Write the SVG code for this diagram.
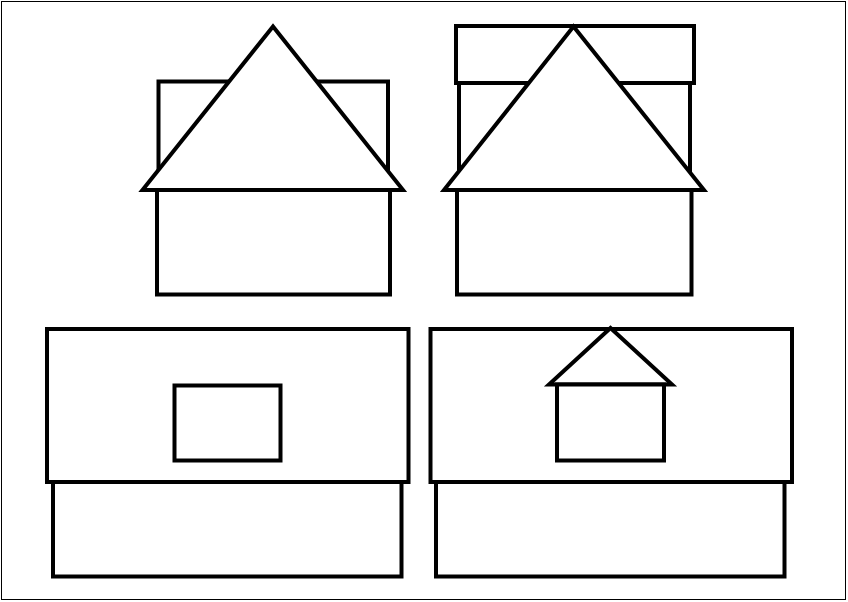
<svg xmlns="http://www.w3.org/2000/svg" width="848" height="602" viewBox="0 0 848 602">
  <style>
    .s { fill: #ffffff; stroke: #000000; stroke-width: 4; stroke-linejoin: miter; stroke-miterlimit: 10; }
    .frame { fill: #ffffff; stroke: #000000; stroke-width: 1; }
  </style>
  <rect class="frame" x="1.5" y="1.5" width="844" height="598"/>
  <g id="house1">
    <rect class="s" x="158.5" y="81.5" width="229.5" height="108.5"/>
    <polygon class="s" points="273,26.5 142.5,190 403,190"/>
    <rect class="s" x="157" y="190" width="233" height="104.5"/>
  </g>
  <g id="house2">
    <rect class="s" x="456" y="26" width="238" height="57"/>
    <rect class="s" x="459" y="83" width="231" height="107"/>
    <polygon class="s" points="573.5,26.5 444,190 704,190"/>
    <rect class="s" x="457" y="190" width="234.5" height="104.5"/>
  </g>
  <g id="house3">
    <rect class="s" x="53" y="482" width="348.5" height="94.5"/>
    <rect class="s" x="47" y="329" width="361.5" height="153"/>
    <rect class="s" x="174.5" y="385.5" width="106" height="75"/>
  </g>
  <g id="house4">
    <rect class="s" x="436" y="482" width="348.5" height="94.5"/>
    <rect class="s" x="430.5" y="329" width="361.5" height="153"/>
    <polygon class="s" points="610.5,328 549,384.5 672,384.5"/>
    <rect class="s" x="557" y="384.5" width="107" height="76"/>
  </g>
  <g id="connectors"/>
</svg>
